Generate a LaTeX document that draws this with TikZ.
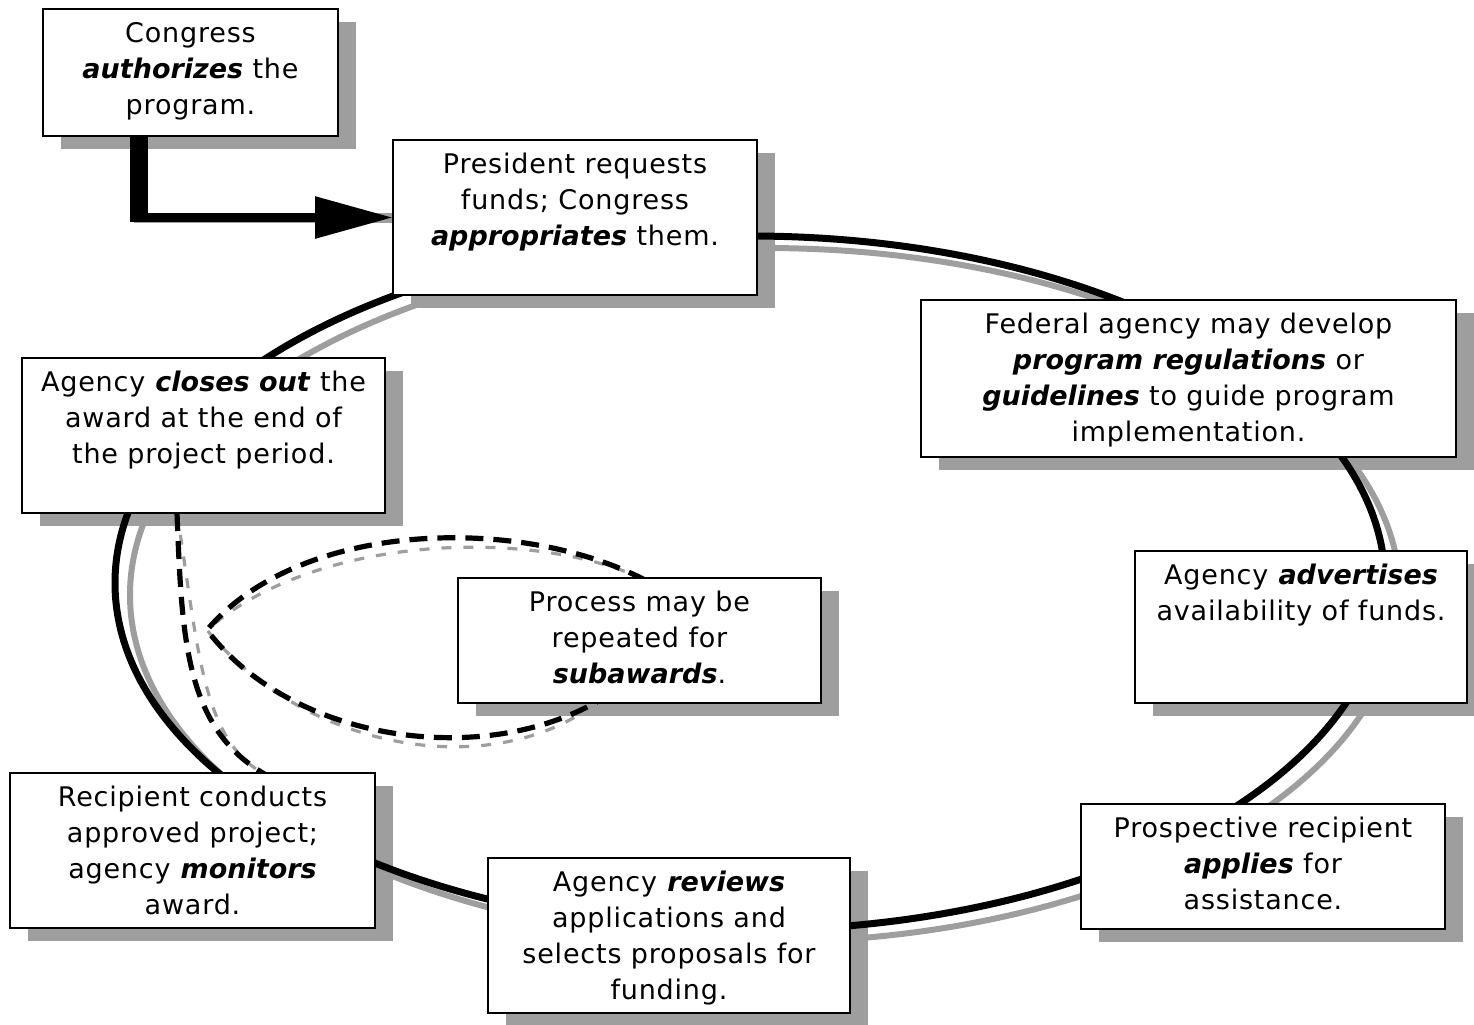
\documentclass[tikz,border=0pt]{standalone}
\usepackage{fontspec}
\setmainfont{DejaVu Sans}[LetterSpace=3,BoldItalicFeatures={LetterSpace=0}]
\usetikzlibrary{arrows.meta,fit}
\pgfdeclarelayer{shadowlayer}
\pgfdeclarelayer{linelayer}
\pgfsetlayers{shadowlayer,linelayer,main}
\definecolor{shadowgray}{gray}{0.62}
\newcommand\emphbi[1]{\textbf{\textit{#1}}}
\newcommand\flowbox[6]{%
  \node[boxst, fit={(#2,#3) (#4,#5)}] (#1) {};
  \begin{pgfonlayer}{shadowlayer}
    \fill[shadowgray] ([shift={(9pt,-6.5pt)}]#1.north west) rectangle ([shift={(9pt,-6.5pt)}]#1.south east);
  \end{pgfonlayer}
  \node[txt, anchor=north] (#1-t) at ([yshift=-6.5pt]#1.north) {#6};
}
\tikzset{
  boxst/.style={draw=black, line width=1pt, fill=white, inner sep=0pt, outer sep=0pt},
  txt/.style={align=center, inner sep=0pt, font=\fontsize{13.5}{18}\selectfont},
  mainloop/.style={line width=3.5pt, black},
  loopshadow/.style={line width=3pt, shadowgray},
  subloop/.style={line width=2.6pt, black, dash pattern=on 9pt off 5pt},
  subshadow/.style={line width=1.6pt, shadowgray, dash pattern=on 5pt off 6pt},
  conn/.style={line width=4.5pt, black},
  connshadow/.style={line width=5pt, shadowgray},
}
\begin{document}
\begin{tikzpicture}[x=0.5pt, y=-0.5pt]
\useasboundingbox (0,0) rectangle (1474,1024);

\flowbox{cong}{43}{9}{338}{136}{Congress\\\emphbi{authorizes} the\\program.}
\flowbox{pres}{393}{140}{757}{295}{President requests\\funds; Congress\\\emphbi{appropriates} them.}
\flowbox{fed}{921}{300}{1456}{457}{Federal agency may develop\\\emphbi{program regulations} or\\\emphbi{guidelines} to guide program\\implementation.}
\flowbox{adv}{1135}{551}{1467}{703}{Agency \emphbi{advertises}\\availability of funds.}
\flowbox{app}{1081}{804}{1445}{929}{Prospective recipient\\\emphbi{applies} for\\assistance.}
\flowbox{rev}{488}{858}{850}{1013}{Agency \emphbi{reviews}\\applications and\\selects proposals for\\funding.}
\flowbox{cond}{10}{773}{375}{928}{Recipient conducts\\approved project;\\agency \emphbi{monitors}\\award.}
\flowbox{close}{22}{358}{385}{513}{Agency \emphbi{closes out} the\\award at the end of\\the project period.}
\flowbox{proc}{458}{578}{821}{703}{Process may be\\repeated for\\\emphbi{subawards}.}

% cycle
\coordinate (cyc) at (750,583);
% sub-award loop coordinates
\coordinate (arcA) at (177,513);
\coordinate (arcB) at (268,776);
\coordinate (loopA) at (645,580);
\coordinate (tip) at (207,630);
\coordinate (loopB) at (600,700);
% connector start
\coordinate (cstart) at ([xshift=48pt]cong.south west);
\coordinate (celbow) at (cstart |- pres.west);

\begin{pgfonlayer}{linelayer}
  \draw[loopshadow] ([shift={(7.5pt,-6pt)}]cyc) ellipse [x radius=317.5pt, y radius=173.5pt];
  \draw[mainloop] (cyc) ellipse [x radius=317.5pt, y radius=173.5pt];

  \begin{scope}[shift={(17,13)}]
    \draw[subshadow] (arcA) .. controls (182,640) and (185,730) .. (arcB);
    \draw[subshadow] (loopA) .. controls (520,515) and (300,520) .. (tip)
                     .. controls (290,740) and (480,770) .. (loopB);
  \end{scope}
  \draw[subloop] (arcA) .. controls (182,640) and (185,730) .. (arcB);
  \draw[subloop] (loopA) .. controls (520,515) and (300,520) .. (tip)
                 .. controls (290,740) and (480,770) .. (loopB);

  % Congress -> President connector
  \begin{scope}[shift={(18,11)}]
    \draw[shadowgray, line width=9pt] (cstart) -- ([yshift=-2.25pt]celbow);
    \draw[connshadow] (cstart) |- (pres.west);
  \end{scope}
  \draw[black, line width=9pt] (cstart) -- ([yshift=-2.25pt]celbow);
  \draw[conn, -{Triangle[length=39pt, width=20pt]}] (cstart) |- (pres.west);
\end{pgfonlayer}
\end{tikzpicture}
\end{document}
